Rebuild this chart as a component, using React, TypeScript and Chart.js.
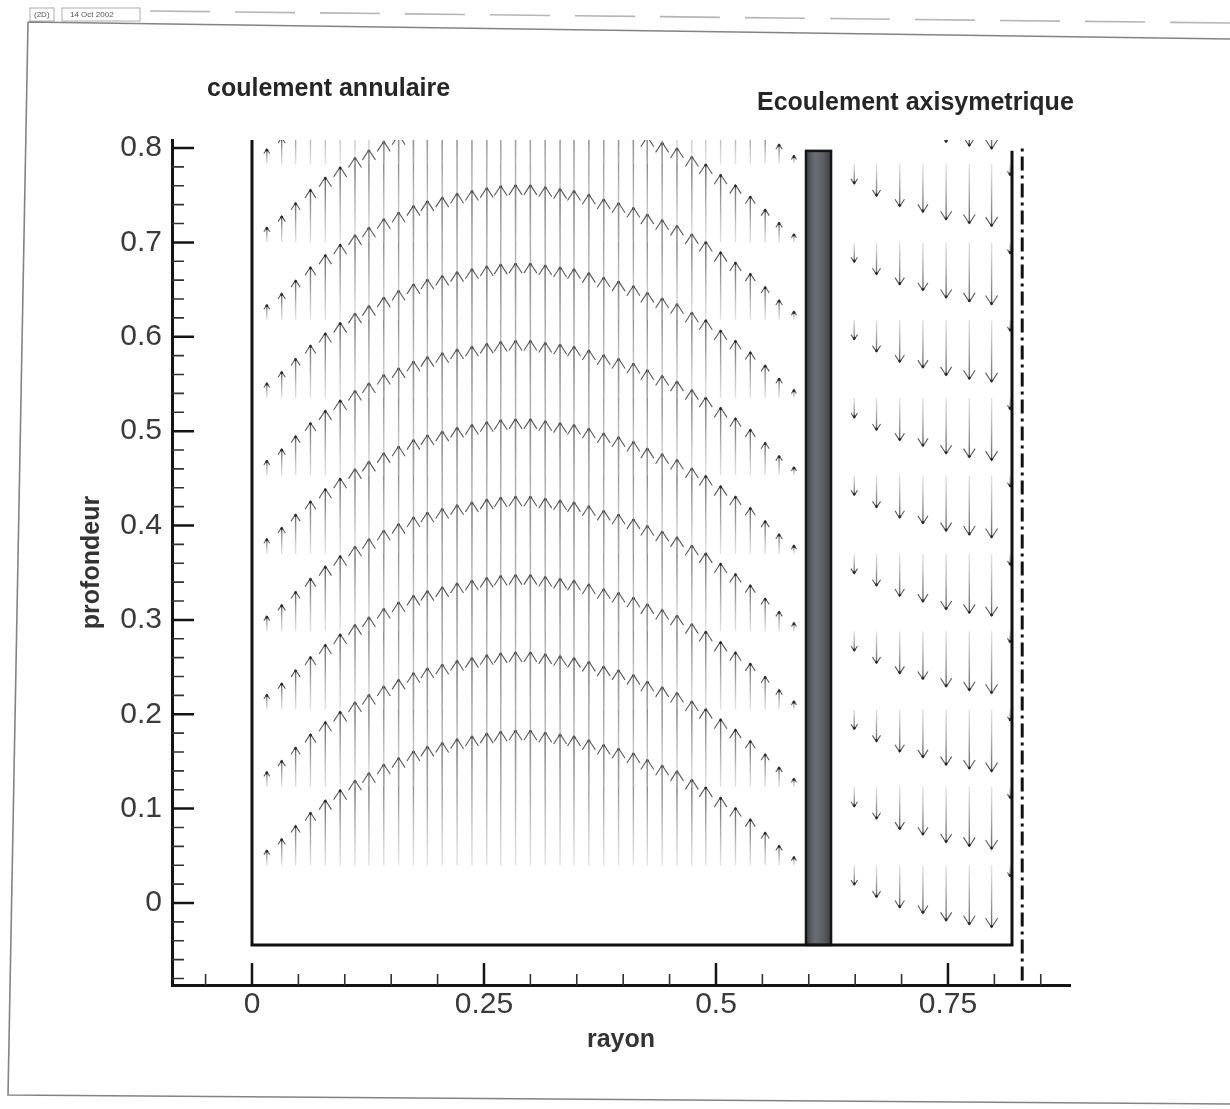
import React, { useEffect, useRef } from 'react';
import { Chart, registerables } from 'chart.js';

Chart.register(...registerables);

// ---------- axes ----------
const X_MIN = -0.0862;
const X_MAX = 0.8815;
const Y_MIN = -0.0869;
const Y_MAX = 0.8085;
const X_TICKS = [0, 0.25, 0.5, 0.75];
const X_TICK_LABELS = ['0', '0.25', '0.5', '0.75'];
const Y_TICKS = [0, 0.1, 0.2, 0.3, 0.4, 0.5, 0.6, 0.7, 0.8];
const Y_TICK_LABELS = ['0', '0.1', '0.2', '0.3', '0.4', '0.5', '0.6', '0.7', '0.8'];
const X_MINOR = [-0.05, 0.05, 0.1, 0.15, 0.2, 0.3, 0.35, 0.4, 0.45, 0.55, 0.6, 0.65, 0.7, 0.8, 0.85];
const Y_MINOR = [
  -0.08, -0.06, -0.04, -0.02, 0.02, 0.04, 0.06, 0.08, 0.12, 0.14, 0.16, 0.18, 0.22, 0.24, 0.26, 0.28,
  0.32, 0.34, 0.36, 0.38, 0.42, 0.44, 0.46, 0.48, 0.52, 0.54, 0.56, 0.58, 0.62, 0.64, 0.66, 0.68,
  0.72, 0.74, 0.76, 0.78,
];

// ---------- annular flow (upward vectors) ----------
const ANNULAR_X = [
  0.016, 0.032, 0.047, 0.063, 0.079, 0.095, 0.111, 0.126, 0.142, 0.158, 0.174, 0.189, 0.205,
  0.221, 0.237, 0.253, 0.268, 0.284, 0.3, 0.316, 0.332, 0.347, 0.363, 0.379, 0.395, 0.411,
  0.426, 0.442, 0.458, 0.474, 0.489, 0.505, 0.521, 0.537, 0.553, 0.568, 0.584,
];
const ANNULAR_SPEED = [
  0.016, 0.028, 0.042, 0.056, 0.069, 0.08, 0.09, 0.098, 0.107, 0.114, 0.121, 0.126, 0.13,
  0.134, 0.137, 0.14, 0.142, 0.143, 0.143, 0.141, 0.139, 0.137, 0.133, 0.128, 0.124, 0.119,
  0.112, 0.106, 0.1, 0.091, 0.083, 0.072, 0.061, 0.049, 0.035, 0.021, 0.009,
];
const ANNULAR_ROWS = [0.04, 0.123, 0.205, 0.288, 0.37, 0.453, 0.535, 0.618, 0.7, 0.783];

// ---------- axisymmetric flow (downward vectors) ----------
const AXI_X = [0.649, 0.673, 0.698, 0.723, 0.748, 0.773, 0.797, 0.817];
const AXI_SPEED = [0.021, 0.034, 0.045, 0.051, 0.059, 0.063, 0.066, 0.012];
const AXI_ROWS = [0.04, 0.123, 0.205, 0.288, 0.37, 0.453, 0.535, 0.618, 0.7, 0.783, 0.865];

// ---------- geometry ----------
const WALL_PATH = [
  { x: 0, y: 0.8085 },
  { x: 0, y: -0.0445 },
  { x: 0.819, y: -0.0445 },
  { x: 0.819, y: 0.797 },
];
const AXIS_LINE = [
  { x: 0.83, y: -0.082 },
  { x: 0.83, y: 0.8 },
];
const GAP_WALL_X = [0.597, 0.624];
const GAP_WALL_Y = [-0.0445, 0.797];

const FONT = 'Liberation Sans, Arial, Helvetica, sans-serif';

function drawVector(ctx: CanvasRenderingContext2D, px: number, pTail: number, pTip: number) {
  const len = Math.abs(pTip - pTail);
  if (len < 1) return;
  const dir = pTip < pTail ? -1 : 1; // -1 = up
  const grad = ctx.createLinearGradient(px, pTail, px, pTip);
  grad.addColorStop(0, 'rgba(200,200,200,0.5)');
  grad.addColorStop(1, 'rgba(85,85,85,0.95)');
  ctx.strokeStyle = grad;
  ctx.lineWidth = 1.4;
  ctx.beginPath();
  ctx.moveTo(px, pTail);
  ctx.lineTo(px, pTip);
  ctx.stroke();
  const hl = Math.min(10, 3 + 0.1 * len);
  const hw = hl * 0.65;
  ctx.strokeStyle = 'rgba(60,60,60,0.85)';
  ctx.lineWidth = 1.1;
  ctx.beginPath();
  ctx.moveTo(px - hw, pTip - dir * hl);
  ctx.lineTo(px, pTip);
  ctx.lineTo(px + hw, pTip - dir * hl);
  ctx.stroke();
  ctx.fillStyle = '#2a2a2a';
  ctx.beginPath();
  ctx.arc(px, pTip - dir * 1.2, 1.4, 0, Math.PI * 2);
  ctx.fill();
}

const decorPlugin = {
  id: 'decor',
  beforeDraw(chart: any) {
    const ctx: CanvasRenderingContext2D = chart.ctx;
    ctx.save();
    ctx.fillStyle = '#ffffff';
    ctx.fillRect(0, 0, chart.width, chart.height);
    // scanned page frame
    ctx.strokeStyle = 'rgba(90,90,95,0.75)';
    ctx.lineWidth = 1.6;
    ctx.beginPath();
    ctx.moveTo(28, 22);
    ctx.lineTo(1230, 39);
    ctx.moveTo(28, 22);
    ctx.lineTo(8, 1095);
    ctx.lineTo(1230, 1104);
    ctx.stroke();
    ctx.strokeStyle = 'rgba(110,110,115,0.5)';
    ctx.setLineDash([60, 25]);
    ctx.beginPath();
    ctx.moveTo(150, 11);
    ctx.lineTo(1230, 23);
    ctx.stroke();
    ctx.setLineDash([]);
    // header stamps
    ctx.strokeStyle = 'rgba(120,120,120,0.6)';
    ctx.lineWidth = 1;
    ctx.strokeRect(30, 8, 24, 13);
    ctx.strokeRect(62, 8, 78, 13);
    ctx.fillStyle = '#555';
    ctx.font = `8px ${FONT}`;
    ctx.textBaseline = 'middle';
    ctx.fillText('(2D)', 34, 15);
    ctx.fillText('14 Oct 2002', 70, 15);
    // region headings
    ctx.fillStyle = '#262626';
    ctx.font = `bold 25px ${FONT}`;
    ctx.textBaseline = 'alphabetic';
    ctx.fillText('coulement annulaire', 207, 96);
    ctx.fillText('Ecoulement axisymetrique', 757, 110);
    ctx.restore();
  },
  beforeDatasetsDraw(chart: any) {
    const ctx: CanvasRenderingContext2D = chart.ctx;
    const xs = chart.scales.x;
    const ys = chart.scales.y;
    const area = chart.chartArea;
    ctx.save();
    ctx.beginPath();
    ctx.rect(area.left, area.top, area.right - area.left, area.bottom - area.top);
    ctx.clip();
    // separating wall (grey bar)
    const bx0 = xs.getPixelForValue(GAP_WALL_X[0]);
    const bx1 = xs.getPixelForValue(GAP_WALL_X[1]);
    const by0 = ys.getPixelForValue(GAP_WALL_Y[1]);
    const by1 = ys.getPixelForValue(GAP_WALL_Y[0]);
    const g = ctx.createLinearGradient(bx0, 0, bx1, 0);
    g.addColorStop(0, '#3d4147');
    g.addColorStop(0.35, '#6a6f76');
    g.addColorStop(0.7, '#5a5e63');
    g.addColorStop(1, '#3a3c40');
    ctx.fillStyle = g;
    ctx.fillRect(bx0, by0, bx1 - bx0, by1 - by0);
    ctx.strokeStyle = '#151515';
    ctx.lineWidth = 2.5;
    ctx.strokeRect(bx0, by0, bx1 - bx0, by1 - by0);
    // annular vectors (upward)
    ANNULAR_ROWS.forEach((y0) => {
      ANNULAR_X.forEach((x, k) => {
        const px = xs.getPixelForValue(x);
        drawVector(ctx, px, ys.getPixelForValue(y0), ys.getPixelForValue(y0 + ANNULAR_SPEED[k]));
      });
    });
    // axisymmetric vectors (downward)
    AXI_ROWS.forEach((y0) => {
      AXI_X.forEach((x, k) => {
        const px = xs.getPixelForValue(x);
        drawVector(ctx, px, ys.getPixelForValue(y0), ys.getPixelForValue(y0 - AXI_SPEED[k]));
      });
    });
    ctx.restore();
  },
  afterDraw(chart: any) {
    const ctx: CanvasRenderingContext2D = chart.ctx;
    const xs = chart.scales.x;
    const ys = chart.scales.y;
    const area = chart.chartArea;
    ctx.save();
    ctx.strokeStyle = '#141414';
    ctx.lineWidth = 2.5;
    ctx.beginPath();
    Y_TICKS.forEach((v) => {
      const p = ys.getPixelForValue(v);
      ctx.moveTo(area.left, p);
      ctx.lineTo(area.left + 22, p);
    });
    X_TICKS.forEach((v) => {
      const p = xs.getPixelForValue(v);
      ctx.moveTo(p, area.bottom);
      ctx.lineTo(p, area.bottom - 22);
    });
    ctx.stroke();
    ctx.lineWidth = 1.6;
    ctx.strokeStyle = '#333';
    ctx.beginPath();
    Y_MINOR.forEach((v) => {
      const p = ys.getPixelForValue(v);
      ctx.moveTo(area.left, p);
      ctx.lineTo(area.left + 12, p);
    });
    X_MINOR.forEach((v) => {
      const p = xs.getPixelForValue(v);
      ctx.moveTo(p, area.bottom);
      ctx.lineTo(p, area.bottom - 11);
    });
    ctx.stroke();
    ctx.restore();
  },
};

export default function App() {
  const ref = useRef<HTMLCanvasElement>(null);
  useEffect(() => {
    if (!ref.current) return;
    const chart = new Chart(ref.current, {
      type: 'scatter',
      data: {
        datasets: [
          {
            label: 'parois',
            data: WALL_PATH,
            showLine: true,
            borderColor: '#111',
            borderWidth: 3,
            pointRadius: 0,
            fill: false,
          },
          {
            label: 'axe',
            data: AXIS_LINE,
            showLine: true,
            borderColor: '#111',
            borderWidth: 3,
            borderDash: [14, 5, 3, 5],
            pointRadius: 0,
            fill: false,
          },
        ],
      },
      options: {
        animation: false,
        responsive: false,
        devicePixelRatio: 1,
        layout: { padding: { top: 140, right: 160, left: 0, bottom: 0 } },
        plugins: { legend: { display: false }, tooltip: { enabled: false } },
        scales: {
          x: {
            type: 'linear',
            position: 'bottom',
            min: X_MIN,
            max: X_MAX,
            afterBuildTicks: (s: any) => {
              s.ticks = X_TICKS.map((v) => ({ value: v }));
            },
            afterFit: (s: any) => {
              s.height = 124;
            },
            ticks: {
              autoSkip: false,
              maxRotation: 0,
              padding: 2,
              color: '#3a3a3a',
              font: { family: FONT, size: 30 },
              callback: (v: any) => X_TICK_LABELS[X_TICKS.indexOf(v)] ?? '',
            },
            grid: { display: false, drawTicks: false },
            border: { display: true, width: 3, color: '#141414' },
            title: {
              display: true,
              text: 'rayon',
              color: '#333',
              font: { family: FONT, size: 25, weight: 'bold' },
              padding: { top: 0, bottom: 54 },
            },
          },
          y: {
            type: 'linear',
            min: Y_MIN,
            max: Y_MAX,
            afterBuildTicks: (s: any) => {
              s.ticks = Y_TICKS.map((v) => ({ value: v }));
            },
            afterFit: (s: any) => {
              s.width = 172;
            },
            ticks: {
              autoSkip: false,
              padding: 10,
              color: '#3a3a3a',
              font: { family: FONT, size: 30 },
              callback: (v: any) => Y_TICK_LABELS[Y_TICKS.indexOf(v)] ?? '',
            },
            grid: { display: false, drawTicks: false },
            border: { display: true, width: 3, color: '#141414' },
            title: {
              display: true,
              text: 'profondeur',
              color: '#333',
              font: { family: FONT, size: 25, weight: 'bold' },
              padding: { top: 77, bottom: 0 },
            },
          },
        },
      },
      plugins: [decorPlugin],
    } as any);
    return () => chart.destroy();
  }, []);
  return (
    <div style={{ position: 'absolute', left: 0, top: 0, width: 1230, height: 1109, background: '#fff' }}>
      <canvas ref={ref} width={1230} height={1109} style={{ display: 'block', width: 1230, height: 1109 }} />
    </div>
  );
}
